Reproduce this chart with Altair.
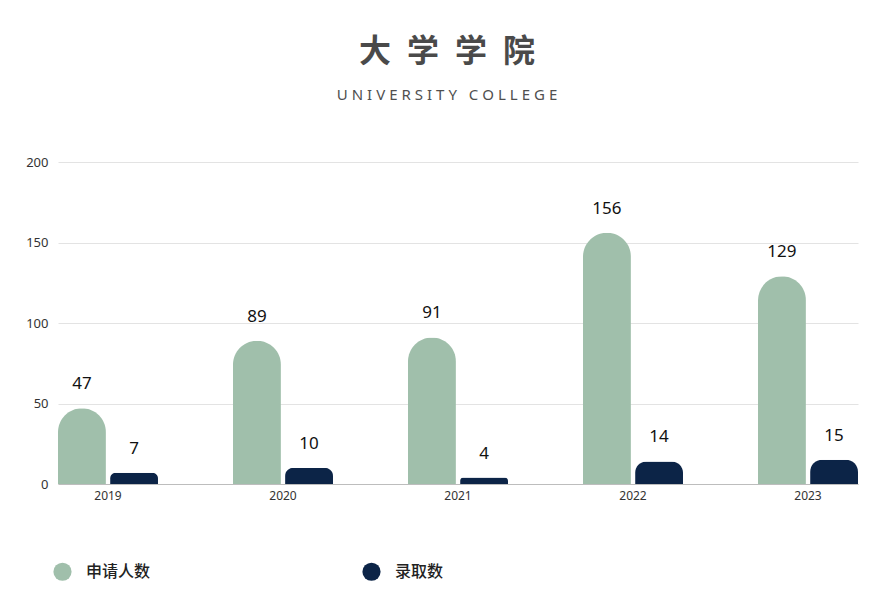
import altair as alt
import pandas as pd

years = ["2019", "2020", "2021", "2022", "2023"]
applicants = [47, 89, 91, 156, 129]
admitted = [7, 10, 4, 14, 15]
series = ["申请人数", "录取数"]
colors = ["#a0bfab", "#0c2447"]

rows = []
for i, y in enumerate(years):
    rows.append({"year": y, "series": series[0], "value": applicants[i]})
    rows.append({"year": y, "series": series[1], "value": admitted[i]})
df = pd.DataFrame(rows)

FONT = "Noto Sans CJK SC"

x = alt.X("year:N", title=None, sort=years,
          scale=alt.Scale(paddingInner=0.4286, paddingOuter=0),
          axis=alt.Axis(labelAngle=0, labelFontSize=12, labelColor="#333333",
                        labelFont="Noto Sans", ticks=False, domainColor="#bdbdbd",
                        labelPadding=6, grid=False))
xo = alt.XOffset("series:N", sort=series, scale=alt.Scale(paddingInner=0.08, paddingOuter=0))
y = alt.Y("value:Q", title=None,
          scale=alt.Scale(domain=[0, 200]),
          axis=alt.Axis(values=[0, 50, 100, 150, 200], labelFontSize=13,
                        labelColor="#333333", labelFont="Noto Sans", ticks=False,
                        domain=False, gridColor="#e3e3e3", labelPadding=10))
color = alt.Color("series:N", sort=series,
                  scale=alt.Scale(domain=series, range=colors),
                  legend=alt.Legend(title=None, orient="none", direction="horizontal",
                                    legendX=-5, legendY=400, symbolType="circle",
                                    symbolSize=330, symbolStrokeWidth=0,
                                    labelFontSize=16, labelFont=FONT, labelFontWeight=500,
                                    labelColor="#222222", columnPadding=211,
                                    symbolOffset=0, labelOffset=14))

base = alt.Chart(df).encode(x=x, xOffset=xo, y=y)

bars = base.mark_bar(cornerRadiusTopLeft=24, cornerRadiusTopRight=24).encode(color=color)
labels = base.mark_text(baseline="alphabetic", dy=-19, fontSize=17, font="Noto Sans",
                        color="#111111").encode(text="value:Q")

title_text = "\u2002".join(["大", "学", "学", "院"])
subtitle_text = "\u2009\u200a".join(list("UNIVERSITY COLLEGE"))

chart = (bars + labels).properties(
    width=800, height=322,
    title=alt.TitleParams(
        text=title_text, subtitle=subtitle_text,
        font=FONT, fontSize=32, fontWeight="bold", color="#4a4a4a",
        subtitleFont="Noto Sans", subtitleFontSize=15, subtitleColor="#4f4f4f",
        subtitlePadding=19, anchor="middle", dx=-11, offset=52,
    ),
    autosize=alt.AutoSizeParams(type="none"),
    padding={"left": 50, "top": 154, "right": 29, "bottom": 104},
    background="white",
).configure_view(stroke=None)

chart.save("out.html", embed_options={"renderer": "svg", "actions": False})
